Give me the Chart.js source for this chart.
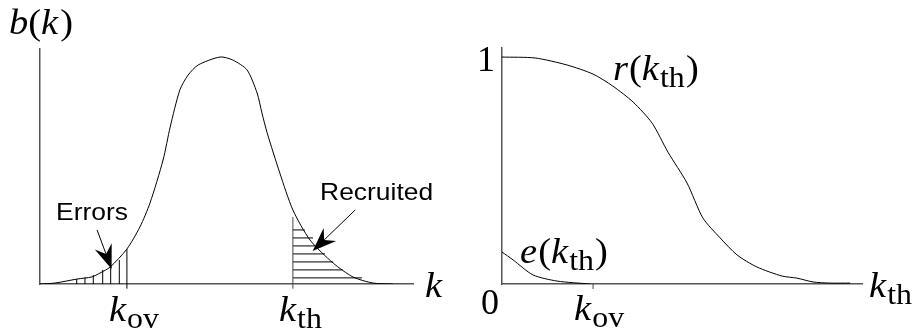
<!DOCTYPE html>
<html>
<head>
<meta charset="utf-8">
<script src="https://cdn.jsdelivr.net/npm/chart.js@4/dist/chart.umd.min.js"></script>
<style>
  html, body { margin: 0; padding: 0; background: #fff; }
  #wrap { position: relative; width: 916px; height: 335px; overflow: hidden; }
  canvas { position: absolute; top: 0; }
  #left { left: 0; }
  #right { left: 458px; }
</style>
</head>
<body>
<div id="wrap">
  <canvas id="left" width="458" height="335"></canvas>
  <canvas id="right" width="458" height="335"></canvas>
</div>
<script>
// ---------- Left panel: distribution b(k) ----------
const bK   = [0, 0.40, 0.99, 1.39, 1.61, 1.88, 2.33, 2.68, 2.95, 3.30, 3.49, 3.75, 3.97, 4.24, 4.83, 5.17, 5.55, 5.82, 5.95, 6.09, 6.43, 6.78, 7.24, 7.86, 8.39, 8.93, 9.46];
const bVal = [0, 0.004, 0.021, 0.030, 0.047, 0.072, 0.149, 0.243, 0.345, 0.528, 0.668, 0.826, 0.889, 0.932, 0.966, 0.953, 0.911, 0.813, 0.728, 0.643, 0.472, 0.315, 0.187, 0.089, 0.030, 0.004, 0];

const kOvLeft = 2.33;       // k_ov marker position
const kOvLeftTop = 0.149;   // height of k_ov line
const kThLeft = 6.78;       // k_th marker position
const kThLeftTop = 0.285;   // height of k_th line
const markerBottom = -0.02; // lines run slightly below the axis

// "Errors" hatching: vertical lines
const errHatchK   = [0.984, 1.206, 1.429, 1.681, 1.895, 2.126];
const errHatchTop = [0.021, 0.029, 0.038, 0.060, 0.077, 0.102];

// "Recruited" hatching: horizontal lines from k_th to the curve
const recHatchY   = [0.230, 0.196, 0.162, 0.128, 0.094, 0.060, 0.026];
const recHatchEnd = [7.10, 7.32, 7.51, 7.64, 7.86, 8.12, 8.63];

// Annotation arrows [fromX, fromY, toX, toY] in data units
const errorsArrow    = [1.53, 0.230, 1.92, 0.064];
const recruitedArrow = [8.45, 0.315, 7.31, 0.140];
const errorsLabelAt    = [0.43, 0.272];
const recruitedLabelAt = [7.51, 0.357];

// ---------- Right panel: r(k_th), e(k_th) ----------
const rK   = [0, 0.92, 1.81, 2.53, 3.08, 3.64, 4.17, 4.61, 5.14, 5.58, 6.06, 6.53, 7.08, 7.78, 8.19, 8.64, 9.11, 9.67];
const rVal = [1.0, 0.996, 0.965, 0.925, 0.872, 0.802, 0.709, 0.581, 0.445, 0.291, 0.203, 0.128, 0.075, 0.035, 0.026, 0.009, 0.004, 0.004];
const eK   = [0, 0.31, 0.86, 1.53, 2.44];
const eVal = [0.141, 0.106, 0.040, 0.013, 0];
const kOvRight = 2.53;
const rLabelAt = [3.08, 0.899];
const eLabelAt = [0.50, 0.093];
const yTickLabels = ['0', '1'];

// ---------- helpers ----------
const SERIF = '"Liberation Serif", "Times New Roman", serif';
const SANS  = '"Liberation Sans", Arial, sans-serif';
const SX = 1.1; // horizontal text stretch of the reference
const IT  = 'italic 35px ' + SERIF;
const RM  = '35px ' + SERIF;
const SUB = '29px ' + SERIF;

function drawParts(ctx, x, y, parts) {
  ctx.save();
  ctx.translate(x, y);
  ctx.scale(SX, 1);
  ctx.fillStyle = '#000';
  ctx.textBaseline = 'alphabetic';
  ctx.textAlign = 'left';
  let cx = 0;
  for (const [t, f, dy, gap] of parts) {
    ctx.font = f;
    cx += (gap || 0);
    ctx.fillText(t, cx, dy || 0);
    cx += ctx.measureText(t).width;
  }
  ctx.restore();
}
function drawArrow(ctx, x0, y0, x1, y1) {
  const ang = Math.atan2(y1 - y0, x1 - x0);
  const L = 24, W = 9, N = 16;
  const ux = Math.cos(ang), uy = Math.sin(ang), px = -uy, py = ux;
  const bx = x1 - ux * N, by = y1 - uy * N;
  ctx.save();
  ctx.strokeStyle = '#000';
  ctx.fillStyle = '#000';
  ctx.lineWidth = 1;
  ctx.beginPath();
  ctx.moveTo(x0, y0);
  ctx.lineTo(bx, by);
  ctx.stroke();
  ctx.beginPath();
  ctx.moveTo(x1, y1);
  ctx.lineTo(x1 - ux * L + px * W, y1 - uy * L + py * W);
  ctx.lineTo(bx, by);
  ctx.lineTo(x1 - ux * L - px * W, y1 - uy * L - py * W);
  ctx.closePath();
  ctx.fill();
  ctx.restore();
}

function pts(xs, ys) { return xs.map((x, i) => ({ x: x, y: ys[i] })); }
function seg(x0, y0, x1, y1) { return [{ x: x0, y: y0 }, { x: x1, y: y1 }]; }

const thin = { borderColor: '#000', borderWidth: 1, pointRadius: 0, fill: false, tension: 0, clip: false };
const axisStyle = (min, max) => ({
  type: 'linear', min: min, max: max, display: true,
  grid: { display: false, drawTicks: false },
  ticks: { display: false },
  border: { display: true, color: '#555', width: 1.5 }
});

function baseOptions(padding, yMax) {
  return {
    responsive: false, animation: false, events: [],
    layout: { padding: padding },
    plugins: { legend: { display: false }, tooltip: { enabled: false } },
    scales: { x: axisStyle(0, 10), y: axisStyle(0, yMax) },
    elements: { point: { radius: 0 } }
  };
}

// ---------- left chart ----------
const leftSets = [];
leftSets.push(Object.assign({ data: pts(bK, bVal) }, thin, { tension: 0.25, clip: true }));
errHatchK.forEach((k, i) => leftSets.push(Object.assign({ data: seg(k, 0, k, errHatchTop[i]) }, thin)));
leftSets.push(Object.assign({ data: seg(kOvLeft, markerBottom, kOvLeft, kOvLeftTop) }, thin));
leftSets.push(Object.assign({ data: seg(kThLeft, markerBottom, kThLeft, kThLeftTop) }, thin, { borderColor: '#444' }));
recHatchY.forEach((y, i) => leftSets.push(Object.assign({ data: seg(kThLeft, y, recHatchEnd[i], y) }, thin)));

const leftLabels = {
  id: 'leftLabels',
  afterDatasetsDraw(chart) {
    const ctx = chart.ctx, xs = chart.scales.x, ys = chart.scales.y, a = chart.chartArea;
    drawArrow(ctx, xs.getPixelForValue(errorsArrow[0]), ys.getPixelForValue(errorsArrow[1]),
                   xs.getPixelForValue(errorsArrow[2]), ys.getPixelForValue(errorsArrow[3]));
    drawArrow(ctx, xs.getPixelForValue(recruitedArrow[0]), ys.getPixelForValue(recruitedArrow[1]),
                   xs.getPixelForValue(recruitedArrow[2]), ys.getPixelForValue(recruitedArrow[3]));
    drawParts(ctx, xs.getPixelForValue(errorsLabelAt[0]), ys.getPixelForValue(errorsLabelAt[1]), [['Errors', '24px ' + SANS]]);
    drawParts(ctx, xs.getPixelForValue(recruitedLabelAt[0]), ys.getPixelForValue(recruitedLabelAt[1]), [['Recruited', '24px ' + SANS]]);
    drawParts(ctx, 9, 34, [['b', IT], ['(', RM], ['k', IT], [')', RM, 0, 2]]);
    drawParts(ctx, a.right + 12, a.bottom + 13, [['k', IT]]);
    drawParts(ctx, xs.getPixelForValue(kOvLeft) - 18, a.bottom + 37, [['k', IT], ['ov', SUB, 7, 1]]);
    drawParts(ctx, xs.getPixelForValue(kThLeft) - 14, a.bottom + 37, [['k', IT], ['th', SUB, 7, 1]]);
  }
};

new Chart(document.getElementById('left'), {
  type: 'line',
  data: { datasets: leftSets },
  options: baseOptions({ left: 40, top: 49, right: 45, bottom: 51 }, 1.0),
  plugins: [leftLabels]
});

// ---------- right chart ----------
const rightSets = [
  Object.assign({ data: pts(rK, rVal) }, thin, { tension: 0.25, clip: true }),
  Object.assign({ data: pts(eK, eVal) }, thin, { tension: 0.25, clip: true }),
  Object.assign({ data: seg(kOvRight, markerBottom * 1.1, kOvRight, 0) }, thin, { borderColor: '#444' })
];

const rightLabels = {
  id: 'rightLabels',
  afterDatasetsDraw(chart) {
    const ctx = chart.ctx, xs = chart.scales.x, ys = chart.scales.y, a = chart.chartArea;
    ctx.save();
    ctx.font = '36px ' + SERIF; ctx.fillStyle = '#000'; ctx.textAlign = 'right'; ctx.textBaseline = 'alphabetic';
    ctx.fillText(yTickLabels[1], a.left - 7, ys.getPixelForValue(1) + 14);
    ctx.fillText(yTickLabels[0], a.left - 3, a.bottom + 30);
    ctx.restore();
    drawParts(ctx, xs.getPixelForValue(kOvRight) - 19, a.bottom + 36, [['k', IT], ['ov', SUB, 7, 1]]);
    drawParts(ctx, a.right + 7, a.bottom + 13, [['k', IT], ['th', SUB, 7, 1]]);
    drawParts(ctx, xs.getPixelForValue(rLabelAt[0]), ys.getPixelForValue(rLabelAt[1]),
      [['r', IT], ['(', RM, 0, 1], ['k', IT], ['th', SUB, 7, 1], [')', RM, 0, 1]]);
    drawParts(ctx, xs.getPixelForValue(eLabelAt[0]), ys.getPixelForValue(eLabelAt[1]),
      [['e', IT], ['(', RM, 0, 1], ['k', IT], ['th', SUB, 7, 1], [')', RM, 0, 1]]);
  }
};

new Chart(document.getElementById('right'), {
  type: 'line',
  data: { datasets: rightSets },
  options: baseOptions({ left: 44, top: 48, right: 54, bottom: 51 }, 1.04),
  plugins: [rightLabels]
});
</script>
</body>
</html>
